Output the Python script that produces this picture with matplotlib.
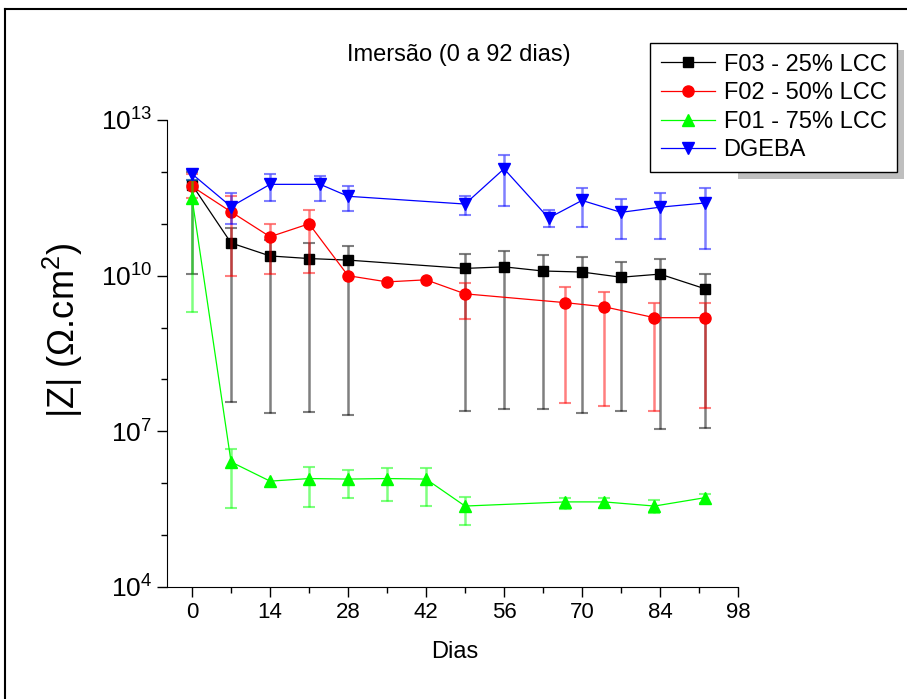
import numpy as np
import matplotlib
matplotlib.use("Agg")
import matplotlib.pyplot as plt
from matplotlib.ticker import FixedLocator, LogFormatterSciNotation, NullFormatter
from matplotlib.lines import Line2D
from matplotlib.patches import Rectangle

plt.rcParams['font.family'] = ['Liberation Sans', 'DejaVu Sans']
plt.rcParams['mathtext.fontset'] = 'custom'
plt.rcParams['mathtext.rm'] = 'Liberation Sans'
plt.rcParams['mathtext.it'] = 'Liberation Sans:italic'

# values as log10(|Z|)
f03_days = [0, 7, 14, 21, 28, 49, 56, 63, 70, 77, 84, 92]
f03_log = [11.75, 10.63, 10.38, 10.33, 10.30, 10.14, 10.17, 10.09, 10.07, 9.97, 10.03, 9.75]
f03_hi = [12.0, 10.91, 10.69, 10.62, 10.58, 10.42, 10.47, 10.39, 10.36, 10.26, 10.33, 10.04]
f03_lo = [10.03, 7.56, 7.36, 7.37, 7.32, 7.40, 7.43, 7.44, 7.36, 7.39, 7.04, 7.07]

f02_days = [0, 7, 14, 21, 28, 35, 42, 49, 67, 74, 83, 92]
f02_log = [11.72, 11.23, 10.75, 11.00, 10.00, 9.88, 9.92, 9.65, 9.48, 9.40, 9.19, 9.19]
f02_hi = [11.95, 11.53, 11.00, 11.27, np.nan, np.nan, np.nan, 9.86, 9.78, 9.69, 9.48, 9.48]
f02_lo = [11.50, 9.99, 10.03, 10.05, np.nan, np.nan, np.nan, 9.16, 7.55, 7.49, 7.39, 7.45]

f01_days = [0, 7, 14, 21, 28, 35, 42, 49, 67, 74, 83, 92]
f01_log = [11.49, 6.41, 6.04, 6.09, 6.08, 6.09, 6.08, 5.56, 5.64, 5.64, 5.56, 5.72]
f01_hi = [11.85, 6.65, np.nan, 6.31, 6.25, 6.29, 6.29, 5.74, 5.72, 5.72, 5.67, 5.80]
f01_lo = [9.30, 5.53, np.nan, 5.54, 5.72, 5.66, 5.57, 5.20, 5.50, 5.53, 5.43, 5.61]

dgeba_days = [0, 7, 14, 23, 28, 49, 56, 64, 70, 77, 84, 92]
dgeba_log = [11.96, 11.33, 11.76, 11.76, 11.53, 11.38, 12.06, 11.11, 11.45, 11.22, 11.32, 11.40]
dgeba_hi = [12.04, 11.60, 11.95, 11.93, 11.72, 11.54, 12.33, 11.27, 11.68, 11.47, 11.59, 11.69]
dgeba_lo = [11.85, 11.00, 11.44, 11.43, 11.25, 11.17, 11.35, 10.94, 10.94, 10.71, 10.71, 10.51]

series = [
    ("F03 - 25% LCC", f03_days, f03_log, f03_hi, f03_lo, "black", "s", 7),
    ("F02 - 50% LCC", f02_days, f02_log, f02_hi, f02_lo, "red", "o", 8),
    ("F01 - 75% LCC", f01_days, f01_log, f01_hi, f01_lo, "#00ff00", "^", 8),
    ("DGEBA", dgeba_days, dgeba_log, dgeba_hi, dgeba_lo, "blue", "v", 8),
]

fig = plt.figure(figsize=(9.07, 6.99), dpi=100)
ax = fig.add_axes([167 / 907, 1 - 587 / 699, (738 - 167) / 907, (587 - 120) / 699])

for label, d, lg, hi, lo, c, m, ms in series:
    d = np.array(d, float)
    y = 10 ** np.array(lg)
    hi = np.array(hi, float)
    lo = np.array(lo, float)
    ok = ~np.isnan(hi)
    yerr = [y[ok] - 10 ** lo[ok], 10 ** hi[ok] - y[ok]]
    ax.errorbar(d[ok], y[ok], yerr=yerr, fmt='none', ecolor=c, alpha=0.5,
                elinewidth=1.8, capsize=4, capthick=1.5)
    ax.plot(d, y, color=c, lw=0.9, marker=m, ms=ms, mec=c, mfc=c, label=label)

ax.set_yscale('log')
ax.set_ylim(1e4, 1e13)
ax.set_xlim(-4.5, 98)
ax.spines['top'].set_visible(False)
ax.spines['right'].set_visible(False)
ax.yaxis.set_major_locator(FixedLocator([1e4, 1e7, 1e10, 1e13]))
ax.yaxis.set_minor_locator(FixedLocator([1e5, 1e6, 1e8, 1e9, 1e11, 1e12]))
ax.yaxis.set_major_formatter(LogFormatterSciNotation())
ax.yaxis.set_minor_formatter(NullFormatter())
ax.set_xticks(np.arange(0, 99, 14))
ax.xaxis.set_minor_locator(FixedLocator(np.arange(7, 98, 14)))
ax.tick_params(axis='both', which='major', direction='out', length=7, width=1)
ax.tick_params(axis='both', which='minor', direction='out', length=4, width=1)
ax.tick_params(axis='x', labelsize=16)
ax.tick_params(axis='y', labelsize=19)

fig.text(459 / 907, 1 - 55 / 699, "Imersão (0 a 92 dias)", ha='center', va='center', fontsize=17)
fig.text(455 / 907, 1 - 652 / 699, "Dias", ha='center', va='center', fontsize=17)
fig.text(63 / 907, 1 - 330 / 699, r"|Z| ($\Omega$.cm$^2$)", ha='center', va='center',
         rotation=90, fontsize=26)

leg = ax.legend(loc='upper right', bbox_to_anchor=(897 / 907, 1 - 43 / 699),
                bbox_transform=fig.transFigure, borderaxespad=0, fancybox=False,
                edgecolor='black', framealpha=1, fontsize=17, handlelength=2.3,
                handletextpad=0.35, labelspacing=0.28, borderpad=0.45)
leg.get_frame().set_linewidth(1)
leg.set_zorder(10)

# drop shadow behind the legend box
fig.canvas.draw()
bb = leg.get_window_extent()
W, H = fig.bbox.width, fig.bbox.height
fig.patches.append(Rectangle(((bb.x0 + 7) / W, (bb.y0 - 7) / H), bb.width / W, bb.height / H,
                             transform=fig.transFigure, facecolor='#bfbfbf', edgecolor='none',
                             zorder=-1))

# outer frame
fig.lines.append(Line2D([5 / 907, 5 / 907], [0, 1 - 9 / 699], transform=fig.transFigure,
                        color='black', lw=1.5))
fig.lines.append(Line2D([5 / 907, 1], [1 - 9 / 699, 1 - 9 / 699], transform=fig.transFigure,
                        color='black', lw=1.5))

fig.savefig("out.png", dpi=100)
